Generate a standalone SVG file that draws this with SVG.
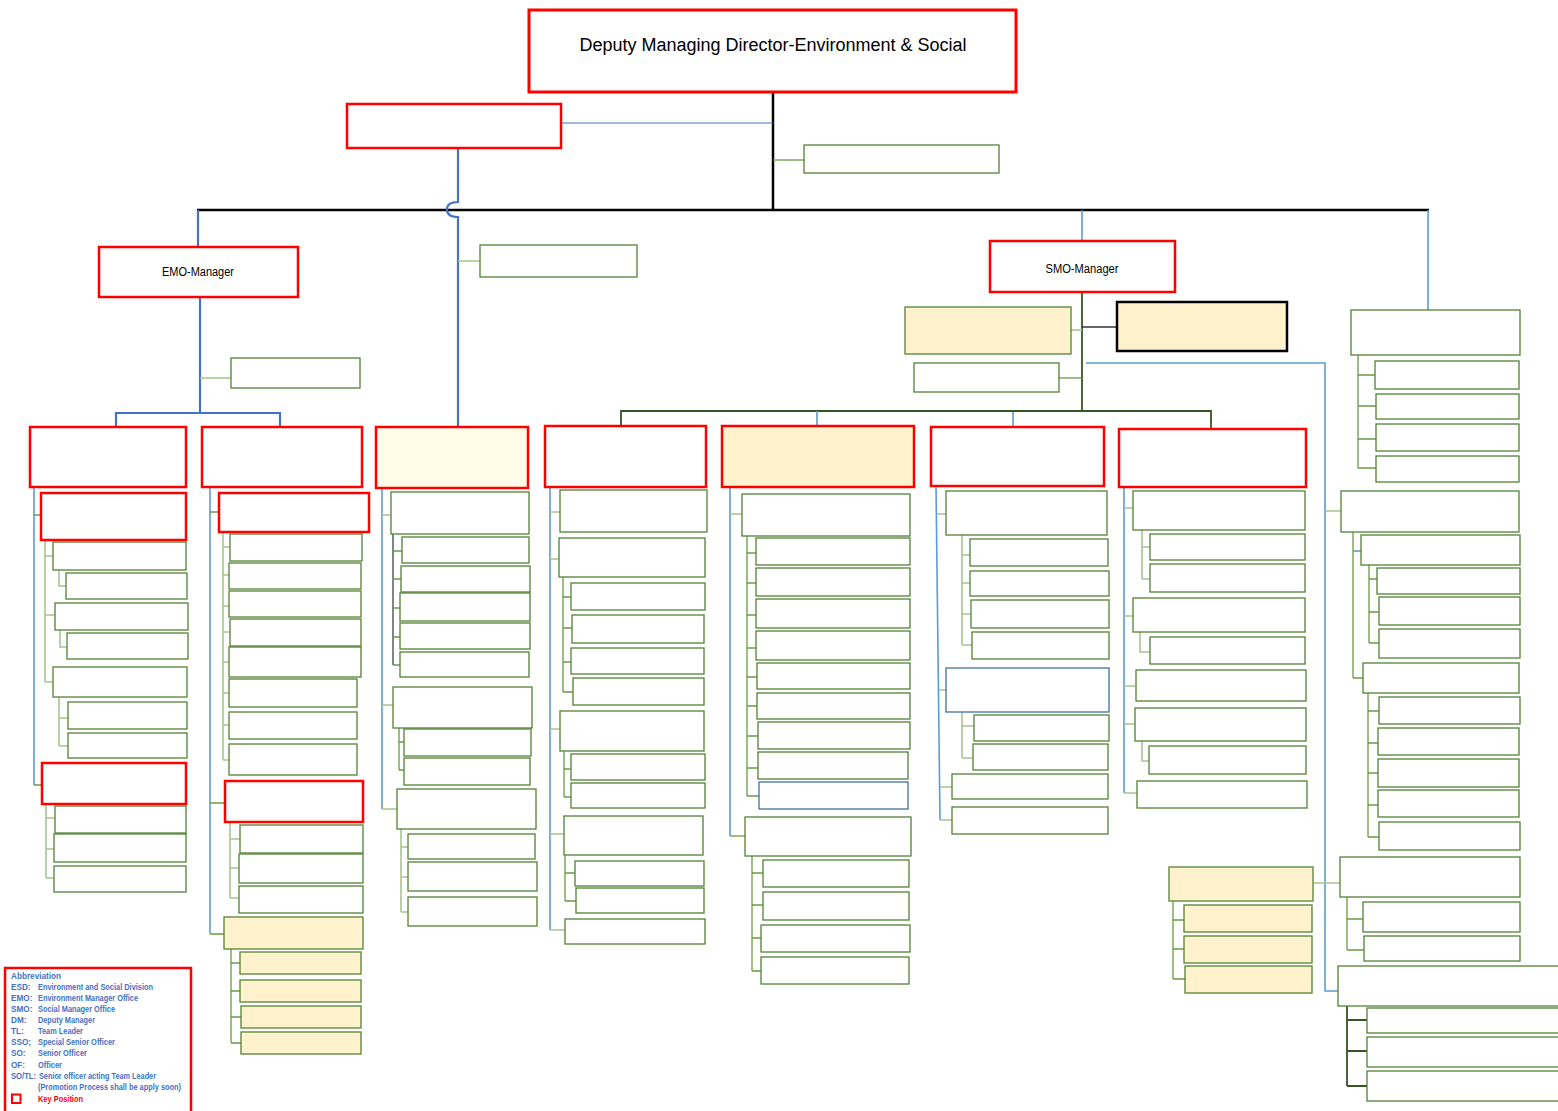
<svg xmlns="http://www.w3.org/2000/svg" width="1558" height="1111" viewBox="0 0 1558 1111">
  <style>
    .key { fill: #ffffff; stroke: #ff0000; stroke-width: 2.5; }
    .g { fill: #ffffff; stroke: #548235; stroke-width: 1.3; }
    .y { fill: #fff2cc; stroke: #548235; stroke-width: 1.3; }
    .b { fill: #ffffff; stroke: #41719c; stroke-width: 1.3; }
    .lb { fill: none; stroke: #5b9bd5; stroke-width: 1.6; }
    .lb2 { fill: none; stroke: #4472c4; stroke-width: 2.2; }
    .lk { fill: none; stroke: #000000; stroke-width: 2.5; }
    .lg { fill: none; stroke: #6a9a45; stroke-width: 1.3; }
    .lgl { fill: none; stroke: #a9c48f; stroke-width: 1.6; }
    .ld { fill: none; stroke: #375623; stroke-width: 1.8; }
    .t { font-family: "Liberation Sans", Arial, sans-serif; fill: #000000; }
    .lg-t { font-family: "Liberation Sans", Arial, sans-serif; font-size: 8.2px; font-weight: bold; fill: #4472c4; }
  </style>
  <rect width="1558" height="1111" fill="#ffffff"/>

  <!-- connectors -->
  <g id="connectors">
    <!-- top level -->
    <path class="lk" d="M773,92 V209"/>
    <path class="lk" d="M197,210 H1429"/>
    <path fill="none" stroke="#4472c4" stroke-width="1.2" d="M561,123 H773"/>
    <path class="lg" d="M773,160 H804"/>
    <path class="lb2" d="M458,148 V202 C450,202 447,205 447,209.5 C447,214 450,217 458,217 V427"/>
    <path class="lb2" d="M198,210 V247"/>
    <path class="lgl" d="M458,261 H480"/>
    <path class="lb" d="M1082,210 V241"/>
    <path class="lb" d="M1428,210 V310"/>

    <!-- EMO branch -->
    <path class="lb2" d="M200,297 V413"/>
    <path class="lgl" d="M200,378 H231"/>
    <path class="lb2" d="M116,428 V413 H280 V428"/>

    <!-- SMO branch -->
    <path class="ld" d="M1082,292 V411"/>
    <path class="lgl" d="M1071,330 H1082"/>
    <path fill="none" stroke="#333333" stroke-width="1.5" d="M1082,327 H1117"/>
    <path class="lg" d="M1059,378 H1082"/>
    <path class="ld" d="M621,426 V411 H1211 V429"/>
    <path class="lb" d="M817,411 V426 M1013,412 V427"/>
    <path class="lb" d="M1086,363 H1325 V991 H1338"/>

    <!-- right top group -->
    <path class="lg" d="M1358,355 V468 M1358,375 H1375 M1358,406 H1376 M1358,439 H1376 M1358,468 H1376"/>

    <!-- right groups hanging off the blue line -->
    <path class="lgl" d="M1325,511 H1341 M1313,883 H1340"/>
    <path class="lg" d="M1353,532 V678 M1353,678 H1363"/>
    <path class="lb" d="M1353,551 H1361"/>
    <path class="lg" d="M1369,565 V643 M1369,579 H1377 M1369,612 H1379 M1369,643 H1379"/>
    <path class="lg" d="M1368,693 V837 M1368,711 H1379 M1368,743 H1378 M1368,773 H1378 M1368,805 H1378 M1368,837 H1379"/>
    <path class="lg" d="M1347,897 V950 M1347,919 H1363 M1347,950 H1364"/>
    <path class="lg" d="M1173,901 V979 M1173,920 H1184 M1173,949 H1184 M1173,979 H1185"/>
    <path class="ld" d="M1347,1006 V1086 M1347,1020 H1367 M1347,1051 H1367 M1347,1086 H1367"/>

    <!-- column 1 -->
    <path class="lb" d="M34,487 V785"/>
    <path class="lg" d="M34,515 H41 M34,785 H42"/>
    <path class="lgl" d="M45,540 V682 M45,556 H53 M45,615 H55 M45,682 H53"/>
    <path class="lgl" d="M59,570 V586 H66 M60,630 V647 H67 M59,697 V746 M59,718 H68 M59,746 H68"/>
    <path class="lgl" d="M46,804 V878 M46,818 H55 M46,849 H54 M46,878 H54"/>

    <!-- column 2 -->
    <path class="lb" d="M210,487 V934"/>
    <path class="lg" d="M210,512 H219 M210,803 H225 M210,934 H224"/>
    <path class="lgl" d="M223,532 V760 M223,547 H230 M223,575 H229 M223,606 H229 M223,632 H230 M223,662 H229 M223,693 H229 M223,725 H229 M223,760 H229"/>
    <path class="lgl" d="M230,822 V898 M230,839 H240 M230,868 H239 M230,898 H239"/>
    <path class="lg" d="M231,949 V1043 M231,963 H240 M231,991 H240 M231,1017 H241 M231,1043 H241"/>

    <!-- column 3 -->
    <path class="lb" d="M382,488 V809"/>
    <path class="lgl" d="M382,515 H391 M382,705 H393 M382,809 H397"/>
    <path fill="none" stroke="#333333" stroke-width="1.2" d="M393,534 V665"/>
    <path class="lg" d="M393,551 H402 M393,579 H401 M393,608 H400 M393,637 H400 M393,665 H400"/>
    <path class="lg" d="M399,728 V770 M399,742 H404 M399,770 H404"/>
    <path class="lgl" d="M401,829 V912 M401,847 H408 M401,877 H408 M401,912 H408"/>

    <!-- column 4 -->
    <path class="lb" d="M550,487 V930"/>
    <path class="lgl" d="M550,512 H560 M550,559 H559 M550,729 H560 M550,834 H564 M550,930 H565"/>
    <path class="lg" d="M563,577 V692 M563,597 H571 M563,628 H572 M563,662 H571 M563,692 H573"/>
    <path class="lg" d="M564,751 V797 M564,769 H571 M564,797 H571"/>
    <path class="lg" d="M565,855 V901 M565,873 H575 M565,901 H576"/>

    <!-- column 5 -->
    <path class="lb" d="M730,487 V836"/>
    <path class="lgl" d="M730,514 H742"/>
    <path class="lg" d="M730,836 H745"/>
    <path class="lg" d="M747,536 V796 M747,553 H756 M747,583 H756 M747,615 H756 M747,648 H756 M747,677 H757 M747,706 H757 M747,736 H758 M747,768 H758 M747,796 H759"/>
    <path class="lg" d="M752,856 V971 M752,873 H763 M752,905 H763 M752,938 H761 M752,971 H761"/>

    <!-- column 6 -->
    <path class="lb" d="M936,486 L940,820"/>
    <path class="lgl" d="M937,514 H946 M939,690 H946 M940,787 H952 M940,820 H952"/>
    <path class="lgl" d="M962,535 V645 M962,555 H970 M962,583 H970 M962,614 H971 M962,645 H972"/>
    <path class="lgl" d="M962,712 V758 M962,726 H974 M962,758 H973"/>

    <!-- column 7 -->
    <path class="lb" d="M1124,487 V793"/>
    <path class="lgl" d="M1124,508 H1133 M1124,616 H1133 M1124,686 H1135 M1124,724 H1135 M1124,793 H1137"/>
    <path class="lgl" d="M1142,530 V579 M1142,547 H1150 M1142,579 H1150"/>
    <path class="lgl" d="M1140,632 V652 H1150"/>
    <path class="lgl" d="M1142,741 V761 H1149"/>
  </g>

  <!-- top level nodes -->
  <g id="n-dmd">
    <rect x="529" y="10" width="487" height="82" fill="#ffffff" stroke="#ff0000" stroke-width="3"/>
    <text class="t" x="773" y="51" font-size="18" text-anchor="middle">Deputy Managing Director-Environment &amp; Social</text>
  </g>
  <g id="n-assist"><rect class="key" x="347" y="104" width="214" height="44"/></g>
  <g id="n-office"><rect class="g" x="804" y="145" width="195" height="28"/></g>
  <g id="n-emo">
    <rect class="key" x="99" y="247" width="199" height="50"/>
    <text class="t" x="198" y="276" font-size="12.5" text-anchor="middle" textLength="72" lengthAdjust="spacingAndGlyphs">EMO-Manager</text>
  </g>
  <g id="n-esd-unit"><rect class="g" x="480" y="245" width="157" height="32"/></g>
  <g id="n-smo">
    <rect class="key" x="990" y="241" width="185" height="51"/>
    <text class="t" x="1082" y="273" font-size="12.5" text-anchor="middle" textLength="73" lengthAdjust="spacingAndGlyphs">SMO-Manager</text>
  </g>
  <g id="n-emo-staff"><rect class="g" x="231" y="358" width="129" height="30"/></g>
  <g id="n-smo-dm1"><rect class="y" x="905" y="307" width="166" height="47"/></g>
  <g id="n-smo-dm2"><rect x="1117" y="302" width="170" height="49" fill="#fff2cc" stroke="#000000" stroke-width="2.5"/></g>
  <g id="n-smo-staff"><rect class="g" x="914" y="363" width="145" height="29"/></g>

  <!-- right top group -->
  <g id="n-r"><rect class="g" x="1351" y="310" width="169" height="45"/></g>
  <g id="n-r1"><rect class="g" x="1375" y="361" width="144" height="28"/></g>
  <g id="n-r2"><rect class="g" x="1376" y="394" width="143" height="25"/></g>
  <g id="n-r3"><rect class="g" x="1376" y="424" width="143" height="27"/></g>
  <g id="n-r4"><rect class="g" x="1376" y="456" width="143" height="26"/></g>

  <!-- column 1 -->
  <g id="n-h1"><rect class="key" x="30" y="427" width="156" height="60"/></g>
  <g id="n-c1a"><rect class="key" x="41" y="493" width="145" height="47"/></g>
  <g id="n-c1a1"><rect class="g" x="53" y="542" width="133" height="28"/></g>
  <g id="n-c1a1a"><rect class="g" x="66" y="573" width="121" height="26"/></g>
  <g id="n-c1a2"><rect class="g" x="55" y="603" width="133" height="27"/></g>
  <g id="n-c1a2a"><rect class="g" x="67" y="633" width="121" height="26"/></g>
  <g id="n-c1a3"><rect class="g" x="53" y="667" width="134" height="30"/></g>
  <g id="n-c1a3a"><rect class="g" x="68" y="702" width="119" height="27"/></g>
  <g id="n-c1a3b"><rect class="g" x="68" y="733" width="119" height="25"/></g>
  <g id="n-c1b"><rect class="key" x="42" y="763" width="144" height="41"/></g>
  <g id="n-c1b1"><rect class="g" x="55" y="806" width="131" height="27"/></g>
  <g id="n-c1b2"><rect class="g" x="54" y="834" width="132" height="28"/></g>
  <g id="n-c1b3"><rect class="g" x="54" y="866" width="132" height="26"/></g>

  <!-- column 2 -->
  <g id="n-h2"><rect class="key" x="202" y="427" width="160" height="60"/></g>
  <g id="n-c2a"><rect class="key" x="219" y="493" width="150" height="39"/></g>
  <g id="n-c2a1"><rect class="g" x="230" y="534" width="132" height="27"/></g>
  <g id="n-c2a2"><rect class="g" x="229" y="563" width="132" height="26"/></g>
  <g id="n-c2a3"><rect class="g" x="229" y="591" width="132" height="26"/></g>
  <g id="n-c2a4"><rect class="g" x="230" y="619" width="131" height="27"/></g>
  <g id="n-c2a5"><rect class="g" x="229" y="647" width="132" height="30"/></g>
  <g id="n-c2a6"><rect class="g" x="229" y="679" width="128" height="28"/></g>
  <g id="n-c2a7"><rect class="g" x="229" y="712" width="128" height="27"/></g>
  <g id="n-c2a8"><rect class="g" x="229" y="744" width="128" height="31"/></g>
  <g id="n-c2b"><rect class="key" x="225" y="781" width="138" height="41"/></g>
  <g id="n-c2b1"><rect class="g" x="240" y="825" width="123" height="28"/></g>
  <g id="n-c2b2"><rect class="g" x="239" y="854" width="124" height="29"/></g>
  <g id="n-c2b3"><rect class="g" x="239" y="886" width="124" height="27"/></g>
  <g id="n-c2c"><rect class="y" x="224" y="917" width="139" height="32"/></g>
  <g id="n-c2c1"><rect class="y" x="240" y="952" width="121" height="22"/></g>
  <g id="n-c2c2"><rect class="y" x="240" y="980" width="121" height="22"/></g>
  <g id="n-c2c3"><rect class="y" x="241" y="1006" width="120" height="22"/></g>
  <g id="n-c2c4"><rect class="y" x="241" y="1032" width="120" height="22"/></g>

  <!-- column 3 -->
  <g id="n-h3"><rect x="376" y="427" width="152" height="61" fill="#fffde8" stroke="#ff0000" stroke-width="2.5"/></g>
  <g id="n-c3a"><rect class="g" x="391" y="492" width="138" height="42"/></g>
  <g id="n-c3a1"><rect class="g" x="402" y="537" width="127" height="26"/></g>
  <g id="n-c3a2"><rect class="g" x="401" y="566" width="129" height="26"/></g>
  <g id="n-c3a3"><rect class="g" x="400" y="593" width="130" height="28"/></g>
  <g id="n-c3a4"><rect class="g" x="400" y="623" width="130" height="26"/></g>
  <g id="n-c3a5"><rect class="g" x="400" y="652" width="129" height="25"/></g>
  <g id="n-c3b"><rect class="g" x="393" y="687" width="139" height="41"/></g>
  <g id="n-c3b1"><rect class="g" x="404" y="729" width="127" height="27"/></g>
  <g id="n-c3b2"><rect class="g" x="404" y="758" width="126" height="27"/></g>
  <g id="n-c3c"><rect class="g" x="397" y="789" width="139" height="40"/></g>
  <g id="n-c3c1"><rect class="g" x="408" y="834" width="127" height="25"/></g>
  <g id="n-c3c2"><rect class="g" x="408" y="862" width="129" height="29"/></g>
  <g id="n-c3c3"><rect class="g" x="408" y="897" width="129" height="29"/></g>

  <!-- column 4 -->
  <g id="n-h4"><rect class="key" x="545" y="426" width="161" height="61"/></g>
  <g id="n-c4a"><rect class="g" x="560" y="490" width="147" height="42"/></g>
  <g id="n-c4b"><rect class="g" x="559" y="538" width="146" height="39"/></g>
  <g id="n-c4b1"><rect class="g" x="571" y="583" width="134" height="27"/></g>
  <g id="n-c4b2"><rect class="g" x="572" y="615" width="132" height="28"/></g>
  <g id="n-c4b3"><rect class="g" x="571" y="648" width="133" height="26"/></g>
  <g id="n-c4b4"><rect class="g" x="573" y="678" width="131" height="27"/></g>
  <g id="n-c4c"><rect class="g" x="560" y="711" width="144" height="40"/></g>
  <g id="n-c4c1"><rect class="g" x="571" y="754" width="134" height="26"/></g>
  <g id="n-c4c2"><rect class="g" x="571" y="783" width="134" height="25"/></g>
  <g id="n-c4d"><rect class="g" x="564" y="816" width="139" height="39"/></g>
  <g id="n-c4d1"><rect class="g" x="575" y="861" width="129" height="25"/></g>
  <g id="n-c4d2"><rect class="g" x="576" y="888" width="128" height="25"/></g>
  <g id="n-c4e"><rect class="g" x="565" y="919" width="140" height="25"/></g>

  <!-- column 5 -->
  <g id="n-h5"><rect x="722" y="426" width="192" height="61" fill="#fff2cc" stroke="#ff0000" stroke-width="2.5"/></g>
  <g id="n-c5a"><rect class="g" x="742" y="494" width="168" height="42"/></g>
  <g id="n-c5a1"><rect class="g" x="756" y="538" width="154" height="27"/></g>
  <g id="n-c5a2"><rect class="g" x="756" y="568" width="154" height="28"/></g>
  <g id="n-c5a3"><rect class="g" x="756" y="599" width="154" height="29"/></g>
  <g id="n-c5a4"><rect class="g" x="756" y="631" width="154" height="29"/></g>
  <g id="n-c5a5"><rect class="g" x="757" y="663" width="153" height="26"/></g>
  <g id="n-c5a6"><rect class="g" x="757" y="693" width="153" height="26"/></g>
  <g id="n-c5a7"><rect class="g" x="758" y="722" width="152" height="27"/></g>
  <g id="n-c5a8"><rect class="g" x="758" y="752" width="150" height="27"/></g>
  <g id="n-c5a9"><rect class="b" x="759" y="782" width="149" height="27"/></g>
  <g id="n-c5b"><rect class="g" x="745" y="817" width="166" height="39"/></g>
  <g id="n-c5b1"><rect class="g" x="763" y="860" width="146" height="27"/></g>
  <g id="n-c5b2"><rect class="g" x="763" y="892" width="146" height="28"/></g>
  <g id="n-c5b3"><rect class="g" x="761" y="925" width="149" height="27"/></g>
  <g id="n-c5b4"><rect class="g" x="761" y="957" width="148" height="27"/></g>

  <!-- column 6 -->
  <g id="n-h6"><rect class="key" x="931" y="427" width="173" height="59"/></g>
  <g id="n-c6a"><rect class="g" x="946" y="491" width="161" height="44"/></g>
  <g id="n-c6a1"><rect class="g" x="970" y="539" width="138" height="27"/></g>
  <g id="n-c6a2"><rect class="g" x="970" y="571" width="139" height="25"/></g>
  <g id="n-c6a3"><rect class="g" x="971" y="600" width="138" height="28"/></g>
  <g id="n-c6a4"><rect class="g" x="972" y="632" width="137" height="27"/></g>
  <g id="n-c6b"><rect class="b" x="946" y="668" width="163" height="44"/></g>
  <g id="n-c6b1"><rect class="g" x="974" y="715" width="135" height="26"/></g>
  <g id="n-c6b2"><rect class="g" x="973" y="744" width="135" height="26"/></g>
  <g id="n-c6c"><rect class="g" x="952" y="774" width="156" height="25"/></g>
  <g id="n-c6d"><rect class="g" x="952" y="807" width="156" height="27"/></g>

  <!-- column 7 -->
  <g id="n-h7"><rect class="key" x="1119" y="429" width="187" height="58"/></g>
  <g id="n-c7a"><rect class="g" x="1133" y="491" width="172" height="39"/></g>
  <g id="n-c7a1"><rect class="g" x="1150" y="534" width="155" height="26"/></g>
  <g id="n-c7a2"><rect class="g" x="1150" y="564" width="155" height="28"/></g>
  <g id="n-c7b"><rect class="g" x="1133" y="598" width="172" height="34"/></g>
  <g id="n-c7b1"><rect class="g" x="1150" y="637" width="155" height="27"/></g>
  <g id="n-c7c"><rect class="g" x="1136" y="670" width="170" height="31"/></g>
  <g id="n-c7d"><rect class="g" x="1135" y="708" width="171" height="33"/></g>
  <g id="n-c7d1"><rect class="g" x="1149" y="746" width="157" height="28"/></g>
  <g id="n-c7e"><rect class="g" x="1137" y="781" width="170" height="27"/></g>

  <!-- right groups -->
  <g id="n-g2"><rect class="g" x="1341" y="491" width="178" height="41"/></g>
  <g id="n-g2a"><rect class="g" x="1361" y="535" width="159" height="30"/></g>
  <g id="n-g2a1"><rect class="g" x="1377" y="568" width="143" height="26"/></g>
  <g id="n-g2a2"><rect class="g" x="1379" y="597" width="141" height="28"/></g>
  <g id="n-g2a3"><rect class="g" x="1379" y="629" width="141" height="29"/></g>
  <g id="n-g2b"><rect class="g" x="1363" y="663" width="156" height="30"/></g>
  <g id="n-g2b1"><rect class="g" x="1379" y="697" width="141" height="27"/></g>
  <g id="n-g2b2"><rect class="g" x="1378" y="728" width="141" height="27"/></g>
  <g id="n-g2b3"><rect class="g" x="1378" y="759" width="141" height="28"/></g>
  <g id="n-g2b4"><rect class="g" x="1378" y="790" width="141" height="27"/></g>
  <g id="n-g2b5"><rect class="g" x="1379" y="822" width="141" height="28"/></g>
  <g id="n-g3"><rect class="g" x="1340" y="857" width="180" height="40"/></g>
  <g id="n-g3a"><rect class="g" x="1363" y="902" width="157" height="30"/></g>
  <g id="n-g3b"><rect class="g" x="1364" y="936" width="156" height="25"/></g>
  <g id="n-g3y"><rect class="y" x="1169" y="867" width="144" height="34"/></g>
  <g id="n-g3y1"><rect class="y" x="1184" y="905" width="128" height="27"/></g>
  <g id="n-g3y2"><rect class="y" x="1184" y="936" width="128" height="27"/></g>
  <g id="n-g3y3"><rect class="y" x="1185" y="966" width="127" height="27"/></g>
  <g id="n-g4"><rect class="g" x="1338" y="966" width="230" height="40"/></g>
  <g id="n-g4a"><rect class="g" x="1367" y="1008" width="200" height="25"/></g>
  <g id="n-g4b"><rect class="g" x="1367" y="1037" width="200" height="30"/></g>
  <g id="n-g4c"><rect class="g" x="1367" y="1071" width="200" height="30"/></g>

  <!-- abbreviation legend -->
  <g id="legend">
    <rect x="5" y="968" width="186" height="150" fill="#ffffff" stroke="#ff0000" stroke-width="2.5"/>
    <text class="lg-t" x="11" y="979">Abbreviation</text>
    <text class="lg-t" x="11" y="990">ESD:</text><text class="lg-t" x="38" y="990" textLength="115" lengthAdjust="spacingAndGlyphs">Environment and Social Division</text>
    <text class="lg-t" x="11" y="1001">EMO:</text><text class="lg-t" x="38" y="1001" textLength="100" lengthAdjust="spacingAndGlyphs">Environment Manager Office</text>
    <text class="lg-t" x="11" y="1012">SMO:</text><text class="lg-t" x="38" y="1012" textLength="77" lengthAdjust="spacingAndGlyphs">Social Manager Office</text>
    <text class="lg-t" x="11" y="1023">DM:</text><text class="lg-t" x="38" y="1023" textLength="57" lengthAdjust="spacingAndGlyphs">Deputy Manager</text>
    <text class="lg-t" x="11" y="1034">TL:</text><text class="lg-t" x="38" y="1034" textLength="45" lengthAdjust="spacingAndGlyphs">Team Leader</text>
    <text class="lg-t" x="11" y="1045">SSO;</text><text class="lg-t" x="38" y="1045" textLength="77" lengthAdjust="spacingAndGlyphs">Special Senior Officer</text>
    <text class="lg-t" x="11" y="1056">SO:</text><text class="lg-t" x="38" y="1056" textLength="49" lengthAdjust="spacingAndGlyphs">Senior Officer</text>
    <text class="lg-t" x="11" y="1068">OF:</text><text class="lg-t" x="38" y="1068" textLength="24" lengthAdjust="spacingAndGlyphs">Officer</text>
    <text class="lg-t" x="11" y="1079" textLength="25" lengthAdjust="spacingAndGlyphs">SO/TL:</text><text class="lg-t" x="39" y="1079" textLength="117" lengthAdjust="spacingAndGlyphs">Senior officer acting Team Leader</text>
    <text class="lg-t" x="38" y="1090" textLength="143" lengthAdjust="spacingAndGlyphs">(Promotion Process shall be apply soon)</text>
    <rect x="12" y="1094.5" width="8.5" height="8.5" fill="#ffffff" stroke="#ff0000" stroke-width="2"/>
    <text class="lg-t" x="38" y="1102" style="fill:#ff0000" textLength="45" lengthAdjust="spacingAndGlyphs">Key Position</text>
  </g>
</svg>
